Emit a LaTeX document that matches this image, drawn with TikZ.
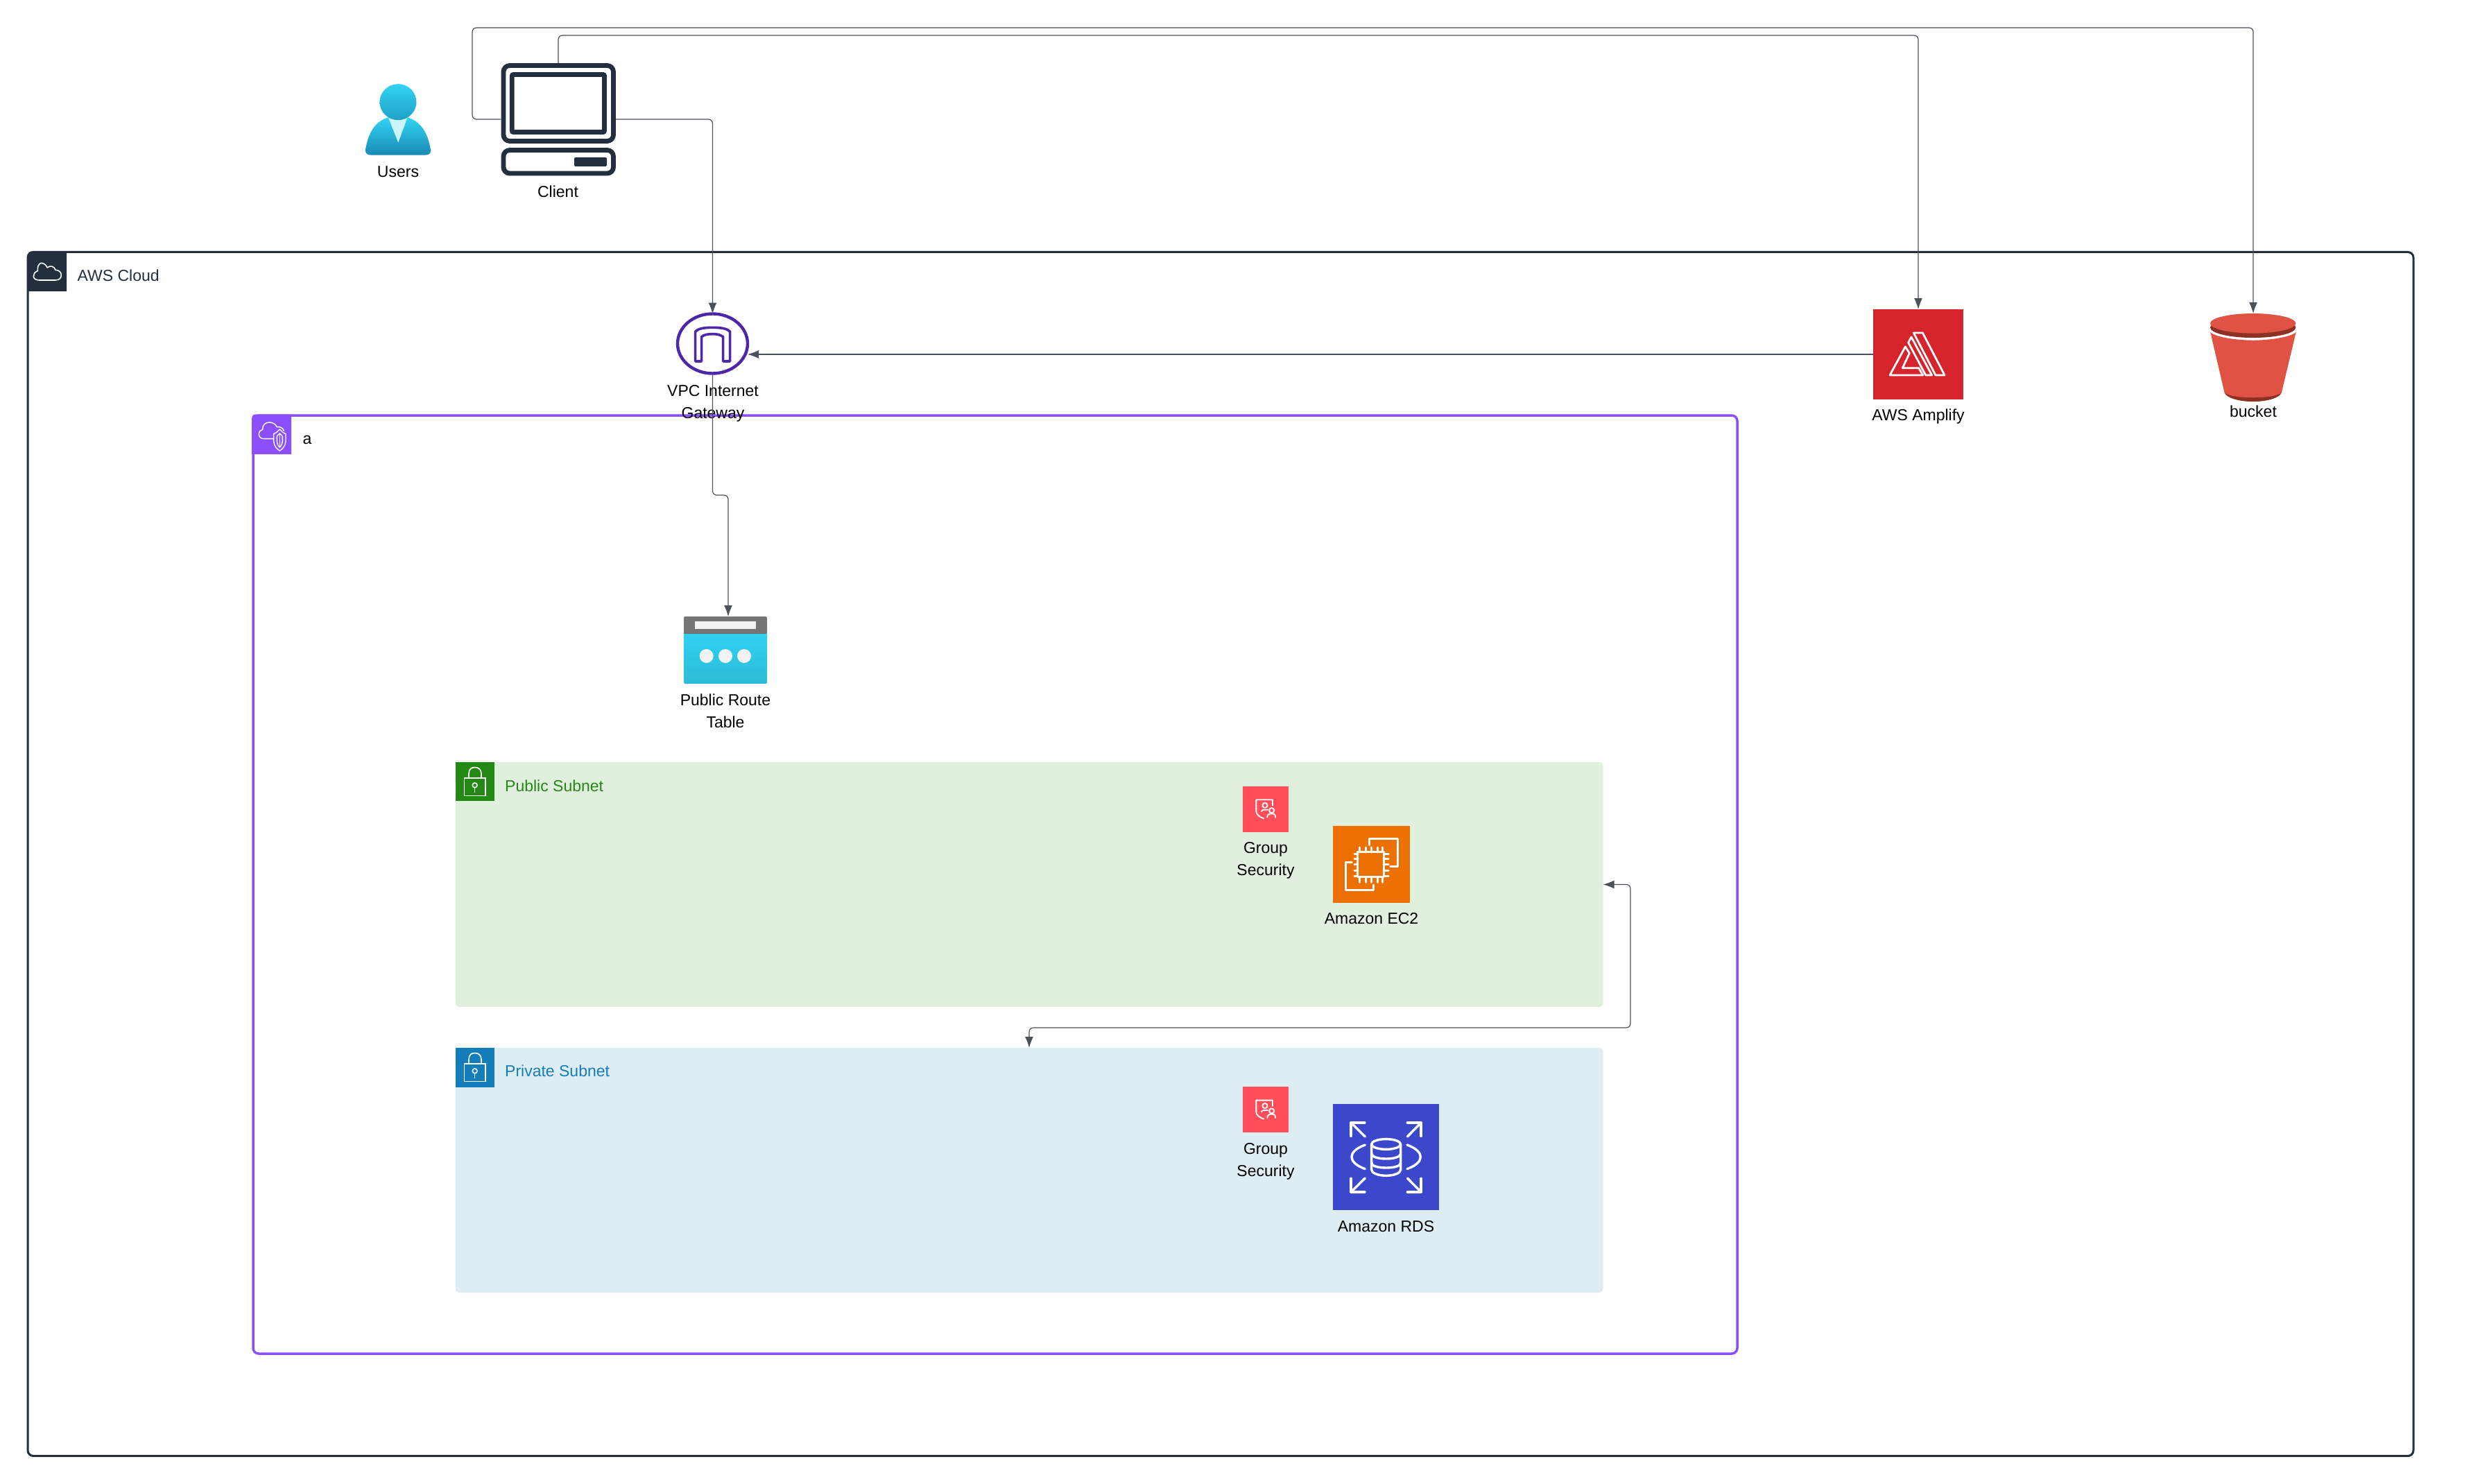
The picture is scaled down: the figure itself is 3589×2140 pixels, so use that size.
\documentclass[tikz,border=0pt]{standalone}
\usepackage{fontspec}
\setmainfont{Liberation Sans}
\usetikzlibrary{arrows.meta,shapes.geometric}
\definecolor{navy}{HTML}{232F3E}
\definecolor{vpcc}{HTML}{8C4FFF}
\definecolor{pubc}{HTML}{248814}
\definecolor{pubf}{HTML}{E1EFDF}
\definecolor{privc}{HTML}{147EBA}
\definecolor{privf}{HTML}{DEEDF4}
\definecolor{gwc}{HTML}{4D27AA}
\definecolor{ampc}{HTML}{D6242D}
\definecolor{ecc}{HTML}{ED7100}
\definecolor{rdsc}{HTML}{3B48CC}
\definecolor{secc}{HTML}{FF4F5B}
\definecolor{cyanc}{HTML}{32D4F5}
\definecolor{cyand}{HTML}{198AB3}
\definecolor{bktc}{HTML}{E05243}
\definecolor{bktd}{HTML}{8C3123}
\definecolor{linec}{HTML}{4A515B}
\tikzset{
  conn/.style={draw=linec,line width=1.2pt,rounded corners=6pt},
  tipped/.style={-{Latex[length=16pt,width=12pt]}},
  both/.style={{Latex[length=16pt,width=12pt]}-{Latex[length=16pt,width=12pt]}},
  lbl/.style={font=\fontsize{23}{32}\selectfont,align=center,inner sep=0pt,text=black},
  title/.style={lbl,anchor=west},
  whiteline/.style={draw=white,line width=2.8pt,line join=round,line cap=round},
}
\newcommand{\SecIcon}[1]{%
  \begin{scope}[shift={(1760,#1)},x=.4209pt,y=-.3333pt,draw=white,line width=1.8pt,line cap=round,line join=round]
    \draw (178,125) -- (178,100) -- (122,100) -- (122,150) .. controls (122,165) and (135,175) .. (148,181);
    \draw (152,124) circle [radius=3.6pt];
    \draw (140,150) .. controls (140,143) and (145,143) .. (162,143);
    \draw (175,146) circle [radius=3.6pt];
    \draw (160,176) .. controls (160,164) and (166,160) .. (175,160) .. controls (184,160) and (188,164) .. (188,176);
  \end{scope}}
\newcommand{\LockIcon}[1]{%
  \begin{scope}[shift={(640,#1)},x=.3333pt,y=-.3444pt,draw=white,line width=1.6pt]
    \draw (88,93) rectangle (180,167);
    \draw (108,93) -- (108,75) .. controls (108,55) and (120,48) .. (134,48) .. controls (148,48) and (162,55) .. (162,75) -- (162,93);
    \draw (134,123) circle [radius=3.4pt];
    \draw (134,134) -- (134,153);
  \end{scope}}
\begin{document}
\begin{tikzpicture}[x=1pt,y=-1pt]
\useasboundingbox (0,0) rectangle (3589,2140);
\fill[white] (0,0) rectangle (3589,2140);

% containers
\node[draw=navy,line width=3pt,rounded corners=8pt,minimum width=3440pt,minimum height=1736pt,inner sep=0pt,outer sep=0pt] (cloud) at (1760,1231.5) {};
\node[draw=vpcc,line width=3.5pt,rounded corners=8pt,minimum width=2140pt,minimum height=1353pt,inner sep=0pt,outer sep=0pt] (vpc) at (1435,1275.5) {};
\node[fill=pubf,rounded corners=6pt,minimum width=1655pt,minimum height=353pt,inner sep=0pt,outer sep=0pt] (pub) at (1484,1275.5) {};
\node[fill=privf,rounded corners=6pt,minimum width=1655pt,minimum height=353pt,inner sep=0pt,outer sep=0pt] (priv) at (1484,1687.5) {};

% headers
\fill[navy] (40,420) -- (40,369) .. controls (40,365) and (42,362.5) .. (46,362.5) -- (96,362.5) -- (96,420) -- cycle;
\fill[vpcc] (363,655) -- (363,603) .. controls (363,600) and (365,597.5) .. (369,597.5) -- (420,597.5) -- (420,655) -- cycle;
\fill[pubc] (657,1099) rectangle (713,1155);
\fill[privc] (657,1511) rectangle (713,1567.5);

% cloud glyph
\begin{scope}[shift={(35,360)},x=.3333pt,y=-.3333pt]
  \draw[white,line width=1.6pt,line join=round] (65,132) -- (135,132) .. controls (152,132) and (160,122) .. (160,110) .. controls (160,98) and (150,88) .. (135,88) .. controls (130,72) and (112,66) .. (100,78) .. controls (92,60) and (78,58) .. (72,58) .. controls (62,62) and (56,75) .. (58,92) .. controls (46,96) and (40,105) .. (40,115) .. controls (40,125) and (50,132) .. (65,132) -- cycle;
\end{scope}
% vpc glyph
\begin{scope}[shift={(360,595)},x=.3333pt,y=-.3333pt]
  \draw[white,line width=1.4pt,line join=round] (105,113) -- (60,113) .. controls (48,113) and (40,104) .. (40,93) .. controls (40,82) and (48,75) .. (56,73) .. controls (54,55) and (68,42) .. (85,42) .. controls (100,42) and (112,50) .. (118,62) .. controls (132,60) and (145,66) .. (148,80);
  \draw[white,line width=1.4pt,line join=round] (130,72) .. controls (118,85) and (112,90) .. (104,92) -- (104,125) .. controls (106,145) and (118,158) .. (130,165) .. controls (142,158) and (154,145) .. (156,125) -- (156,92) .. controls (148,90) and (142,85) .. (130,72) -- cycle;
  \draw[white,line width=1.4pt] (130,90) .. controls (122,98) and (118,100) .. (118,104) -- (118,125) .. controls (118,135) and (124,145) .. (130,150) .. controls (136,145) and (142,135) .. (142,125) -- (142,104) .. controls (142,100) and (138,98) .. (130,90) -- cycle;
  \draw[white,line width=1.4pt] (130,90) -- (130,150);
\end{scope}
\LockIcon{1090}
\LockIcon{1502}

% titles
\node[title,text=navy] (tcloud) at (111.5,399) {AWS Cloud\strut};
\node[title] (tvpc) at (436.5,634.5) {a\strut};
\node[title,text=pubc] (tpub) at (728,1135) {Public Subnet\strut};
\node[title,text=privc] (tpriv) at (728,1546.5) {Private Subnet\strut};

% users
\node[minimum width=94pt,minimum height=103pt,inner sep=0pt] (users) at (574,172.5) {};
\begin{scope}[shift={(480,0)},x=.4464pt,y=-.3333pt]
  \shade[top color=cyanc,bottom color=cyand] (180,508) .. controls (130,525) and (112,590) .. (105,650) .. controls (105,665) and (112,671) .. (125,671) -- (296,671) .. controls (310,671) and (316,665) .. (316,650) .. controls (309,590) and (290,525) .. (240,508) -- cycle;
  \fill[white!75!cyanc] (180,511) -- (240,511) -- (211,617) -- cycle;
  \shade[top color=cyanc,bottom color=cyand!70!cyanc] (210.5,441.5) ellipse [x radius=26.5pt,y radius=26pt];
\end{scope}
\node[lbl] (lusers) at (574,249) {Users\strut};

% client
\node[minimum width=165.5pt,minimum height=162pt,inner sep=0pt,outer sep=0pt] (client) at (805,172) {};
\draw[navy,line width=6.8pt,rounded corners=9pt] (726,94.5) rectangle (884.5,203.5);
\draw[navy,line width=6.8pt,rounded corners=2pt] (738.3,107.5) rectangle (871.5,190.5);
\draw[navy,line width=6.8pt,rounded corners=9pt] (726,216.5) rectangle (884.5,250);
\fill[navy,rounded corners=2pt] (828,227) rectangle (875,240);
\node[lbl] (lclient) at (804.5,278) {Client\strut};

% gateway
\node[ellipse,draw=gwc,line width=4.4pt,minimum width=101pt,minimum height=86pt,inner sep=0pt,outer sep=0pt] (gateway) at (1027.5,495.5) {};
\begin{scope}[shift={(970,445)},x=.3333pt,y=-.3333pt]
  \draw[gwc,line width=3.6pt,line join=round] (98,228) -- (98,100) .. controls (110,85) and (140,82) .. (172,82) .. controls (205,82) and (235,85) .. (248,100) -- (248,228) -- (218,228) -- (218,122) .. controls (205,112) and (190,110) .. (172,110) .. controls (155,110) and (135,112) .. (125,122) -- (125,228) -- cycle;
\end{scope}
\node[lbl] (lgateway) at (1028,581.5) {VPC Internet\strut\\Gateway\strut};

% route table
\node[minimum width=120pt,minimum height=97pt,inner sep=0pt,outer sep=0pt] (route) at (1046,937.5) {};
\shade[top color=cyanc,bottom color=cyanc!88!black,rounded corners=2pt] (986,905) rectangle (1106,986);
\fill[black!54,rounded corners=2pt] (986,889) rectangle (1106,914);
\fill[black!54] (986,900) rectangle (1106,914);
\fill[black!5] (1002,896) rectangle (1090,907);
\foreach \dx in {1018.6,1046,1073}{\fill[black!5] (\dx,946) circle [radius=10pt];}
\node[lbl] (lroute) at (1046,1027) {Public Route\strut\\Table\strut};

% amplify
\node[fill=ampc,minimum width=130pt,minimum height=130pt,inner sep=0pt,outer sep=0pt] (amplify) at (2766,511) {};
\begin{scope}[shift={(2720,470)},x=.3333pt,y=-.3333pt]
  \draw[whiteline] (118,30) -- (157,30) -- (252,213) -- (213,213) -- cycle;
  \draw[whiteline] (95,72) -- (108,48) -- (197,213) -- (170,213) -- cycle;
  \draw[whiteline] (82,90) -- (100,118) -- (70,182) -- (140,182) -- (158,213) -- (15,213) -- cycle;
\end{scope}
\node[lbl] (lamplify) at (2766,600.5) {AWS Amplify\strut};

% bucket
\node[minimum width=124pt,minimum height=127pt,inner sep=0pt,outer sep=0pt] (bucket) at (3249,515.5) {};
\begin{scope}[shift={(2680,0)},x=.5797pt,y=-.4209pt]
  \fill[bktd] (910,1345) .. controls (915,1365) and (950,1376) .. (981,1376) .. controls (1012,1376) and (1047,1365) .. (1052,1345) -- cycle;
  \fill[bktc] (875,1138) .. controls (890,1158) and (950,1166) .. (981,1166) .. controls (1012,1166) and (1072,1158) .. (1088,1138) -- (1052,1345) .. controls (1040,1358) and (1010,1362) .. (981,1362) .. controls (950,1362) and (922,1358) .. (910,1345) -- cycle;
  \fill[bktd] (981,1122) ellipse [x radius=61.7pt,y radius=14.8pt];
  \fill[bktc] (981,1108) ellipse [x radius=61.7pt,y radius=14.3pt];
\end{scope}
\node[lbl] (lbucket) at (3249,595.5) {bucket\strut};

% security groups
\node[fill=secc,minimum width=65.6pt,minimum height=66pt,inner sep=0pt,outer sep=0pt] (sec1) at (1825.2,1166.7) {};
\SecIcon{1120}
\node[lbl] (lsec1) at (1825,1240) {Group\strut\\Security\strut};
\node[fill=secc,minimum width=65.6pt,minimum height=66pt,inner sep=0pt,outer sep=0pt] (sec2) at (1825.2,1600) {};
\SecIcon{1553.3}
\node[lbl] (lsec2) at (1825,1673.7) {Group\strut\\Security\strut};

% ec2
\node[fill=ecc,minimum width=111pt,minimum height=111pt,inner sep=0pt,outer sep=0pt] (ec2) at (1977.5,1246.5) {};
\begin{scope}[shift={(1760,1120)},x=.4209pt,y=-.3333pt,draw=white,line width=3pt,line cap=round,line join=round]
  \draw (510,296) -- (510,267) -- (606,267) -- (606,388) -- (582,388);
  \draw (450,370) -- (428,370) -- (428,492) -- (523,492) -- (523,468);
  \draw (470,327) rectangle (560,433);
  \foreach \px in {477,497,517,537,555}{\draw (\px,306) -- (\px,327); \draw (\px,433) -- (\px,457);}
  \foreach \py in {335,357,380,407,430}{\draw (459,\py) -- (470,\py); \draw (560,\py) -- (575,\py);}
\end{scope}
\node[lbl] (lec2) at (1977.5,1326) {Amazon EC2\strut};

% rds
\node[fill=rdsc,minimum width=153pt,minimum height=153pt,inner sep=0pt,outer sep=0pt] (rds) at (1998.5,1668.5) {};
\begin{scope}[shift={(1760,1540)},x=.4209pt,y=-.3333pt,draw=white,line width=3.4pt,line join=round,line cap=round]
  \draw (447,295) -- (447,237) -- (494,237); \draw (447,237) -- (495,297);
  \draw (640,237) -- (687,237) -- (687,295); \draw (687,237) -- (640,297);
  \draw (447,478) -- (447,537) -- (494,537); \draw (447,537) -- (495,477);
  \draw (640,537) -- (687,537) -- (687,478); \draw (687,537) -- (640,477);
  \draw (495,333) .. controls (462,348) and (449,368) .. (449,385) .. controls (449,402) and (462,422) .. (495,437);
  \draw (639,333) .. controls (672,348) and (685,368) .. (685,385) .. controls (685,402) and (672,422) .. (639,437);
  \draw (567,330) ellipse [x radius=21pt,y radius=7.4pt];
  \draw (517,330) -- (517,440) .. controls (517,455) and (540,466) .. (567,466) .. controls (594,466) and (617,455) .. (617,440) -- (617,330);
  \draw (517,370) .. controls (517,385) and (540,393) .. (567,393) .. controls (594,393) and (617,385) .. (617,370);
  \draw (517,410) .. controls (517,425) and (540,432) .. (567,432) .. controls (594,432) and (617,425) .. (617,410);
\end{scope}
\node[lbl] (lrds) at (1998.5,1770) {Amazon RDS\strut};

% connectors
\coordinate (busA) at (681,40);
\coordinate (busB) at (2766,51);
\coordinate (rbend) at (1050,714);
\coordinate (dbend) at (2351,1482);
\draw[conn,tipped] (client.west) -| (busA) -| (bucket.north);
\draw[conn,tipped] (client.north) |- (busB) -- (amplify.north);
\draw[conn,tipped] (client.east) -| (gateway.north);
\draw[conn,tipped] (amplify.west) -- (gateway.east |- amplify.west);
\draw[conn,tipped] (gateway.south) |- (rbend) -- (rbend |- route.north);
\draw[conn,both] (pub.east) -| (dbend) -| (priv.north);
\end{tikzpicture}
\end{document}
